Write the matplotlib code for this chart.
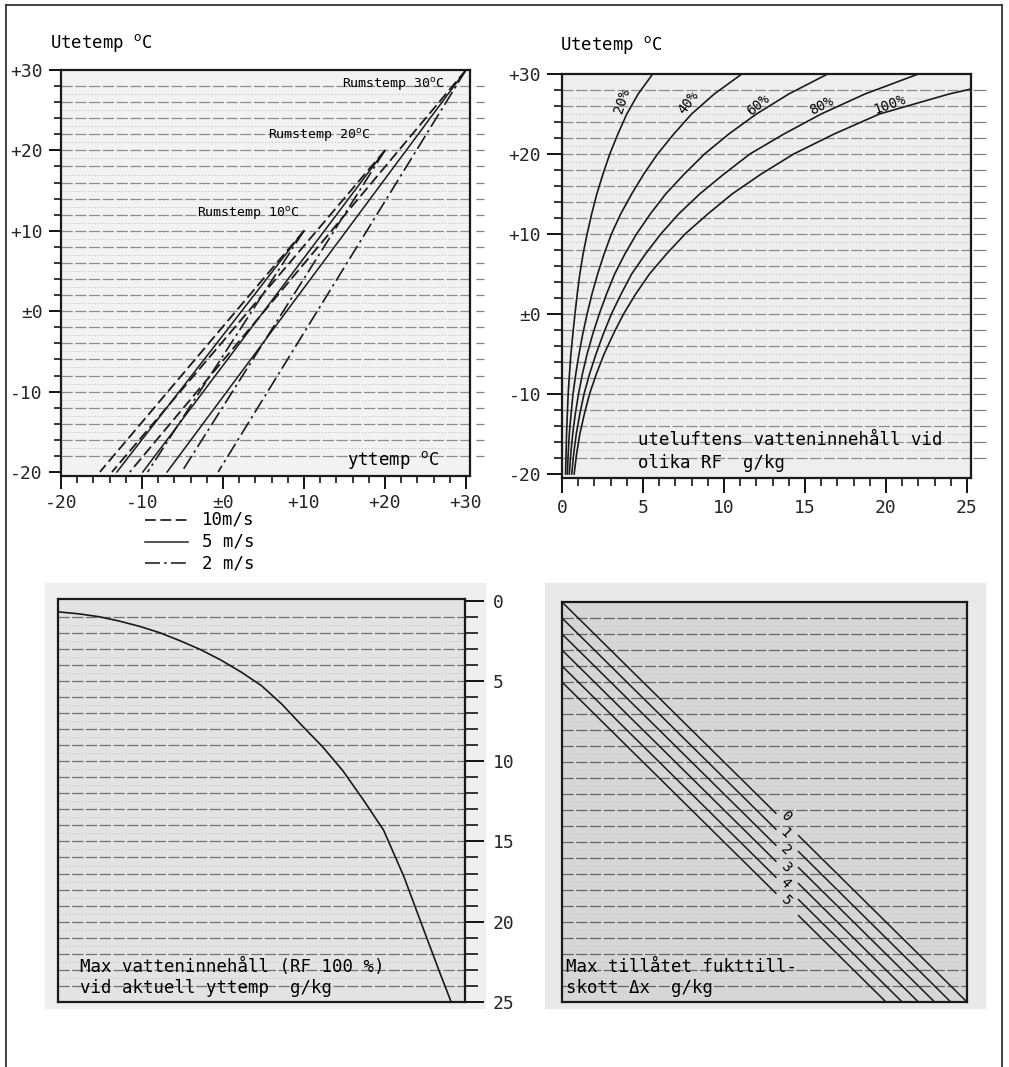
import numpy as np
import matplotlib.pyplot as plt
from matplotlib.lines import Line2D
from matplotlib.patches import Rectangle

plt.rcParams['font.family'] = ['DejaVu Sans Mono', 'DejaVu Sans']

# ---- data ----
# upper left: yttemp at utetemp -20 for each rumstemp (lines start at (R, R))
rum_temps = [10, 20, 30]
ute_low = -20
ytt_10ms = [-15.2, -13.7, -11.5]
ytt_5ms = [-13.1, -9.9, -6.9]
ytt_2ms = [-9.3, -5.1, -0.6]

# upper right: outdoor water content (g/kg) vs utetemp for RF levels
rf_temps = [-20, -17.5, -15, -12.5, -10, -7.5, -5, -2.5, 0, 2.5, 5,
            7.5, 10, 12.5, 15, 17.5, 20, 22.5, 25, 27.5, 30]
rf20 = [0.22, 0.25, 0.28, 0.33, 0.38, 0.46, 0.55, 0.67, 0.8, 0.94, 1.1,
        1.3, 1.55, 1.83, 2.15, 2.53, 2.95, 3.45, 4.0, 4.7, 5.6]
rf40 = [0.33, 0.38, 0.45, 0.56, 0.68, 0.85, 1.05, 1.28, 1.55, 1.85, 2.2,
        2.6, 3.05, 3.62, 4.3, 5.05, 5.9, 6.9, 8.0, 9.4, 11.1]
rf60 = [0.45, 0.54, 0.66, 0.82, 1.02, 1.26, 1.55, 1.9, 2.3, 2.75, 3.25,
        3.88, 4.6, 5.45, 6.4, 7.55, 8.8, 10.3, 12.0, 14.0, 16.4]
rf80 = [0.6, 0.72, 0.88, 1.1, 1.36, 1.7, 2.1, 2.55, 3.05, 3.65, 4.3,
        5.15, 6.1, 7.2, 8.5, 10.0, 11.6, 13.7, 16.0, 18.7, 22.0]
rf100_temps = [-20, -17.5, -15, -12.5, -10, -7.5, -5, -2.5, 0, 2.5, 5,
               7.5, 10, 12.5, 15, 17.5, 20, 22.5, 25, 27.5, 28.1]
rf100 = [0.75, 0.9, 1.1, 1.38, 1.7, 2.12, 2.6, 3.17, 3.8, 4.55, 5.4,
         6.45, 7.6, 9.0, 10.5, 12.3, 14.3, 16.8, 19.6, 23.9, 25.2]
rf_names = ['20%', '40%', '60%', '80%', '100%']

# lower left: max water content at surface temp
sat_temps = [-20, -17.5, -15, -12.5, -10, -7.5, -5, -2.5, 0, 2.5, 5,
             7.5, 10, 12.5, 15, 17.5, 20, 22.5, 25, 27, 28.3]
sat_x = [0.7, 0.82, 1.0, 1.27, 1.6, 2.0, 2.5, 3.05, 3.7, 4.45, 5.3,
         6.45, 7.8, 9.1, 10.6, 12.4, 14.3, 17.2, 20.6, 23.3, 25.0]

# lower right: allowed moisture addition
dx_levels = [0, 1, 2, 3, 4, 5]

W, H = 1009, 1067
fig = plt.figure(figsize=(W / 100, H / 100), dpi=100)


def rect(x0, y0, x1, y1):
    return [x0 / W, 1 - y1 / H, (x1 - x0) / W, (y1 - y0) / H]


def paper(ax, ys, x0, x1, color='0.55', lw=0.9):
    ax.hlines(ys, x0, x1, colors=color, lw=lw, linestyles=(0, (9, 2)), zorder=0.5)
    mid = [(a + b) / 2 for a, b in zip(ys[:-1], ys[1:])]
    ax.hlines(mid, x0, x1, colors='0.78', lw=0.6, linestyles=(0, (2, 2)), zorder=0.4)


def frame(ax):
    for s in ax.spines.values():
        s.set_linewidth(1.6)
        s.set_color('0.1')


DASH = (0, (6, 2.5))
DASHDOT = (0, (9, 2.5, 1.5, 2.5))
tick_kw = dict(fontsize=13, color='0.15')

# frame around the whole sheet
fig.add_artist(Line2D([6 / W, 6 / W], [0, 1 - 5 / H], color='0.2', lw=1.3))
fig.add_artist(Line2D([6 / W, 1002 / W], [1 - 5 / H, 1 - 5 / H], color='0.2', lw=1.3))
fig.add_artist(Line2D([1002 / W, 1002 / W], [0, 1 - 5 / H], color='0.2', lw=1.3))

# background texture behind lower panels
fig.add_artist(Rectangle((45 / W, 1 - 1008 / H), 440 / W, 425 / H, color='#efefef', zorder=0))
fig.add_artist(Rectangle((545 / W, 1 - 1008 / H), 440 / W, 425 / H, color='#e9e9e9', zorder=0))

# ---------------- upper left ----------------
ax1 = fig.add_axes(rect(61, 70, 470, 476))
ax1.set_facecolor('#f2f2f2')
ax1.set_xlim(-20, 30.5)
ax1.set_ylim(-20.5, 30)
paper(ax1, list(range(-18, 30, 2)), -20, 30.5)
ax1.hlines(list(range(-18, 30, 2)), 31.2, 32.2, colors='0.5', lw=0.9, clip_on=False)
for r, y10, y5, y2 in zip(rum_temps, ytt_10ms, ytt_5ms, ytt_2ms):
    ax1.plot([r, y10], [r, ute_low], color='0.1', lw=1.3, ls=DASH)
    ax1.plot([r, y5], [r, ute_low], color='0.1', lw=1.1, ls='-')
    ax1.plot([r, y2], [r, ute_low], color='0.1', lw=1.2, ls=DASHDOT)
ax1.set_yticks([30, 20, 10, 0, -10, -20])
ax1.set_yticklabels(['+30', '+20', '+10', '±0', '-10', '-20'], **tick_kw)
ax1.set_yticks(list(range(-18, 30, 2)), minor=True)
ax1.set_xticks([-20, -10, 0, 10, 20, 30])
ax1.set_xticklabels(['-20', '-10', '±0', '+10', '+20', '+30'], **tick_kw)
ax1.set_xticks(list(range(-18, 30, 2)), minor=True)
ax1.tick_params(which='major', direction='out', length=9, width=1.3, pad=4)
ax1.tick_params(which='minor', direction='out', length=5, width=1.1)
frame(ax1)
ax1.text(14.7, 28.2, 'Rumstemp 30$^{\\rm o}$C', fontsize=9.5, va='center')
ax1.text(5.6, 21.8, 'Rumstemp 20$^{\\rm o}$C', fontsize=9.5, va='center')
ax1.text(-3.2, 12.1, 'Rumstemp 10$^{\\rm o}$C', fontsize=9.5, va='center')
ax1.text(15.3, -18.5, 'yttemp $^{\\rm o}$C', fontsize=12.5, va='center')
fig.text(50 / W, 1 - 43 / H, 'Utetemp $^{\\rm o}$C', fontsize=12.5, va='center')

# legend under the axis
for i, (ls, lw, lab) in enumerate([(DASH, 1.3, '10m/s'), ('-', 1.1, '5 m/s'),
                                   (DASHDOT, 1.2, '2 m/s')]):
    yy = 1 - (520 + i * 21.5) / H
    fig.add_artist(Line2D([145 / W, 188 / W], [yy, yy], color='0.15', lw=lw, ls=ls))
    fig.text(202 / W, yy, lab, fontsize=12.5, va='center')

# ---------------- upper right ----------------
ax2 = fig.add_axes(rect(562, 74, 971, 478))
ax2.set_facecolor('#eeeeee')
ax2.set_xlim(0, 25.25)
ax2.set_ylim(-20.5, 30)
paper(ax2, list(range(-18, 30, 2)), 0, 25.25)
ax2.hlines(list(range(-18, 30, 2)), 25.4, 26.2, colors='0.5', lw=0.9, clip_on=False)
for xs in [rf20, rf40, rf60, rf80]:
    ax2.plot(xs, rf_temps, color='0.1', lw=1.2)
ax2.plot(rf100, rf100_temps, color='0.1', lw=1.2)
lab_pos = [(3.7, 26.6, 72), (7.8, 26.5, 54), (12.1, 26.2, 40), (16.0, 26.0, 27), (20.2, 26.2, 20)]
for (lx, ly, rot), name in zip(lab_pos, rf_names):
    ax2.text(lx, ly, name, fontsize=10, rotation=rot, ha='center', va='center')
ax2.set_yticks([30, 20, 10, 0, -10, -20])
ax2.set_yticklabels(['+30', '+20', '+10', '±0', '-10', '-20'], **tick_kw)
ax2.set_yticks(list(range(-18, 30, 2)), minor=True)
ax2.set_xticks([0, 5, 10, 15, 20, 25])
ax2.set_xticklabels(['0', '5', '10', '15', '20', '25'], **tick_kw)
ax2.set_xticks(list(range(1, 26)), minor=True)
ax2.tick_params(which='major', direction='out', length=11, width=1.3, pad=4)
ax2.tick_params(which='minor', direction='out', length=6, width=1.1)
frame(ax2)
ax2.text(4.7, -15.8, 'uteluftens vatteninnehåll vid', fontsize=12.5, va='center')
ax2.text(4.7, -18.6, 'olika RF  g/kg', fontsize=12.5, va='center')
fig.text(560 / W, 1 - 45 / H, 'Utetemp $^{\\rm o}$C', fontsize=12.5, va='center')

# ---------------- lower left ----------------
ax3 = fig.add_axes(rect(58, 599, 465, 1002))
ax3.set_facecolor('#e3e3e3')
ax3.set_xlim(-20, 30)
ax3.set_ylim(25, -0.1)
paper(ax3, list(range(1, 25)), -20, 30, color='0.45')
ax3.plot(sat_temps, sat_x, color='0.1', lw=1.2)
ax3.yaxis.tick_right()
ax3.set_xticks([])
ax3.set_yticks([0, 5, 10, 15, 20, 25])
ax3.set_yticklabels(['0', '5', '10', '15', '20', '25'], **tick_kw)
ax3.set_yticks(list(range(1, 25)), minor=True)
ax3.tick_params(which='major', direction='out', length=14, width=1.3, pad=6)
ax3.tick_params(which='minor', direction='out', length=9, width=1.1)
frame(ax3)
ax3.text(-17.3, 22.8, 'Max vatteninnehåll (RF 100 %)', fontsize=12.5, va='center')
ax3.text(-17.3, 24.1, 'vid aktuell yttemp  g/kg', fontsize=12.5, va='center')

# ---------------- lower right ----------------
ax4 = fig.add_axes(rect(562, 602, 967, 1002))
ax4.set_facecolor('#d6d6d6')
ax4.set_xlim(0, 25)
ax4.set_ylim(25, 0)
paper(ax4, list(range(1, 25)), 0, 25, color='0.4')
for k in dx_levels:
    ax4.plot([0, 13.2], [k, 13.2 + k], color='0.1', lw=1.1)
    ax4.plot([14.6, 25 - k], [14.6 + k, 25], color='0.1', lw=1.1)
    ax4.text(13.8, 13.4 + k * 1.05, str(k), fontsize=10, rotation=-45,
             ha='center', va='center')
ax4.set_xticks([])
ax4.set_yticks([])
frame(ax4)
ax4.text(0.25, 22.8, 'Max tillåtet fukttill-', fontsize=12.5, va='center')
ax4.text(0.25, 24.1, 'skott Δx  g/kg', fontsize=12.5, va='center')

fig.savefig('out.png', dpi=100, facecolor='white')
